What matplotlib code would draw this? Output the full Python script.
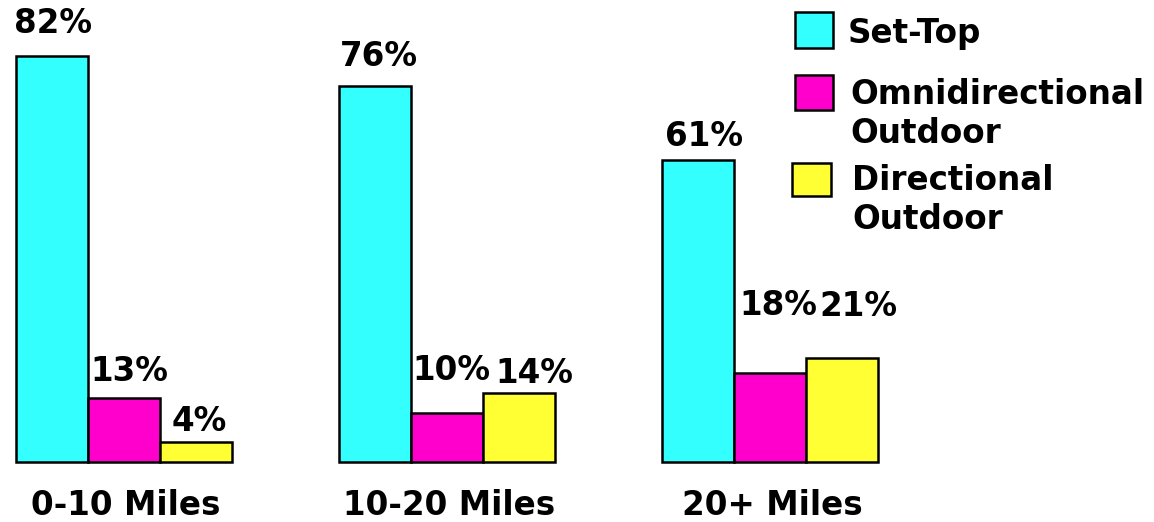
import matplotlib
matplotlib.use("Agg")
import matplotlib.pyplot as plt
from matplotlib.patches import Rectangle

categories = ["0-10 Miles", "10-20 Miles", "20+ Miles"]
series_names = ["Set-Top", "Omnidirectional\nOutdoor", "Directional\nOutdoor"]
set_top = [82, 76, 61]
omni = [13, 10, 18]
directional = [4, 14, 21]
colors = ["#33FFFF", "#FF00CC", "#FFFF33"]

# label placement tweaks (pixels): gap above bar, horizontal shift  [group][series]
label_gap = [[23, 17, 11], [20, 33, 10], [14, 58, 42]]
label_dx = [[1, 5, 3], [4, 4, 15], [6, 8, 16]]

W, H = 1154, 522
fig = plt.figure(figsize=(W / 100, H / 100), dpi=100)
ax = fig.add_axes([0, 0, 1, 1])
spacing = 323.0
x0 = 124.0
bw = 72.0 / spacing
ax.set_xlim(-x0 / spacing, (W - x0) / spacing)
scale = 4.95
base = 60.0
ax.set_ylim(-base / scale, (H - base) / scale)
ax.axis("off")

font = dict(family=["DejaVu Sans"], weight="bold")
FS = 23.5
px2pt = 0.72
series = [set_top, omni, directional]
for s, vals in enumerate(series):
    for g, v in enumerate(vals):
        x = g + (s - 1) * bw
        ax.bar(x, v, width=bw, color=colors[s], edgecolor="black",
               linewidth=1.8, zorder=2)
        ax.annotate(f"{v}%", (x, v),
                    xytext=(label_dx[g][s] * px2pt, label_gap[g][s] * px2pt),
                    textcoords="offset points", ha="center", va="baseline",
                    fontsize=FS, **font)

for g, cat in enumerate(categories):
    ax.annotate(cat, (g, 0), xytext=(2 * px2pt, -53 * px2pt),
                textcoords="offset points", ha="center", va="baseline",
                fontsize=FS, **font)

# legend (manual)
leg_boxes = [(795, 12, 38, 36), (795, 75, 38, 35), (792, 163, 39, 33)]
leg_text = [(848, 43), (850, 104), (852, 190)]
for i in range(3):
    bx, by, bwid, bht = leg_boxes[i]
    fig.patches.append(Rectangle((bx / W, 1 - (by + bht) / H), bwid / W, bht / H,
                                 transform=fig.transFigure, facecolor=colors[i],
                                 edgecolor="black", linewidth=1.8))
    tx, ty = leg_text[i]
    for j, line in enumerate(series_names[i].split("\n")):
        fig.text(tx / W, 1 - (ty + 39 * j) / H, line, ha="left", va="baseline",
                 fontsize=FS, **font)

fig.savefig("out.png", dpi=100)
